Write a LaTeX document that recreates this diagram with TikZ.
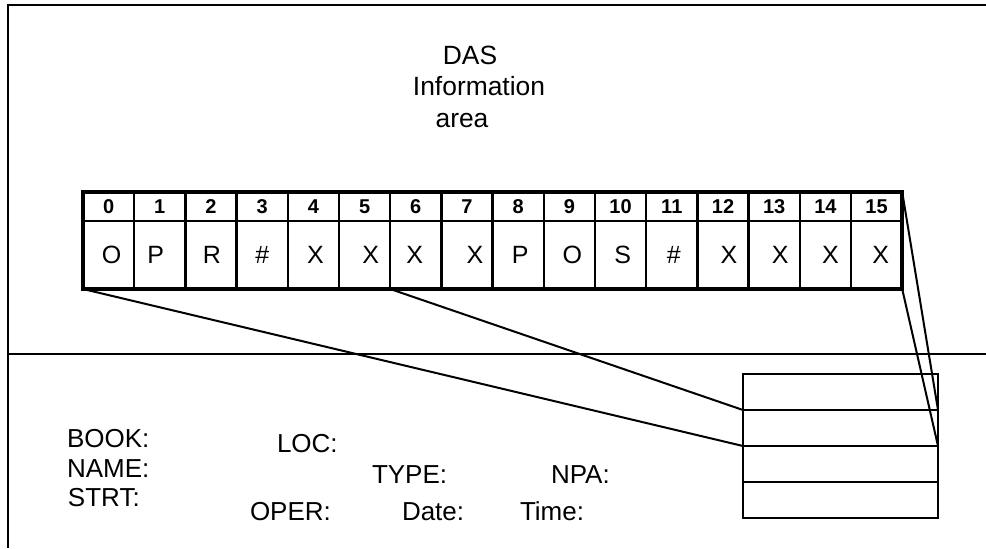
\documentclass[tikz,border=0pt]{standalone}
\usepackage{fontspec}
\setmainfont{Liberation Sans}
\usetikzlibrary{positioning}

\begin{document}
\begin{tikzpicture}
	[x=0.5pt, y=-0.5pt, line width=1pt,
	 hcell/.style={draw, line width=1.2pt, minimum width=25.6pt, minimum height=14.5pt, inner sep=0pt, outer sep=0pt, font=\fontsize{10}{10}\selectfont\bfseries},
	 vcell/.style={draw, line width=1.2pt, minimum width=25.6pt, minimum height=34pt, inner sep=0pt, outer sep=0pt},
	 letter/.style={inner sep=0pt, font=\fontsize{12.5}{12.5}\selectfont},
	 slot/.style={draw, minimum width=97.5pt, minimum height=18pt, inner sep=0pt, outer sep=0pt},
	 lbl/.style={anchor=base west, inner sep=0pt, font=\fontsize{13}{15}\selectfont},
	 title/.style={anchor=base, inner sep=0pt, font=\fontsize{13.2}{15}\selectfont}]
	\useasboundingbox (0,0) rectangle (986,548);
	% frame and divider
	\draw (8,548) -- (8,5) -- (986,5);
	\draw (8,354) -- (986,354);
	% heading
	\node[title] (das) at (470,64) {DAS};
	\node[title] (info) at (479,95) {Information};
	\node[title] (area) at (462,127) {area};
	% record
	\foreach \l/\dx [count=\i from 0] in {O/3,P/-4,R/1,\#/0,X/2,X/6,X/-1,X/8,P/2,O/3,S/2,\#/2,X/6,X/6,X/5,X/4} {
		\node[hcell] (h\i) at ({108.6+51.2*\i},206.5) {\i};
		\node[vcell, below=0pt of h\i] (c\i) {};
		\node[letter] (l\i) at ([xshift=\dx*0.5pt]c\i.center) {\l};
	}
	\draw[line width=1.8pt] (h0.north west) rectangle (c15.south east);
	% stack
	\node[slot] (r1) at (840.5,392) {};
	\node[slot, below=0pt of r1] (r2) {};
	\node[slot, below=0pt of r2] (r3) {};
	\node[slot, below=0pt of r3] (r4) {};
	\draw (c0.south west) -- (r3.north west);
	\draw (c6.south west) -- (r2.north west);
	\draw (c15.south east) -- (r3.north east);
	\draw (h15.north east) -- (r2.north east);
	% fields
	\node[lbl] (book) at (66,447) {BOOK:};
	\node[lbl] (name) at (66,477) {NAME:};
	\node[lbl] (strt) at (67,506) {STRT:};
	\node[lbl] (loc) at (276,452) {LOC:};
	\node[lbl] (type) at (371,483) {TYPE:};
	\node[lbl] (npa) at (550,483) {NPA:};
	\node[lbl] (oper) at (249,520) {OPER:};
	\node[lbl] (date) at (401,520) {Date:};
	\node[lbl] (time) at (519,520) {Time:};
\end{tikzpicture}
\end{document}
